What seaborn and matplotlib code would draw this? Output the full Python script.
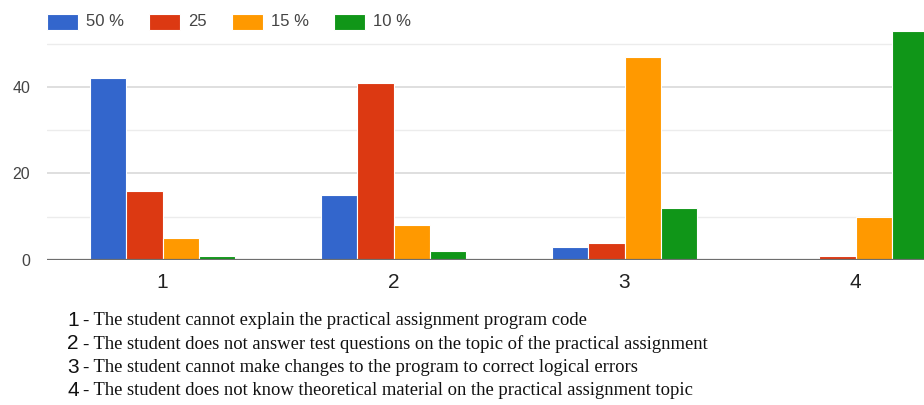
import matplotlib
matplotlib.use("Agg")
import matplotlib.pyplot as plt
import seaborn as sns
import pandas as pd

# answers per error type, one list per grade share
groups = ["1", "2", "3", "4"]
series = ["50 %", "25", "15 %", "10 %"]
share_50 = [42, 15, 3, 0]
share_25 = [16, 41, 4, 1]
share_15 = [5, 8, 47, 10]
share_10 = [1, 2, 12, 53]
colors = ["#3366cc", "#dc3912", "#ff9900", "#109618"]
descriptions = [
    "The student cannot explain the practical assignment program code",
    "The student does not answer test questions on the topic of the practical assignment",
    "The student cannot make changes to the program to correct logical errors",
    "The student does not know theoretical material on the practical assignment topic",
]

rows = []
for name, vals in zip(series, [share_50, share_25, share_15, share_10]):
    for g, v in zip(groups, vals):
        rows.append({"group": g, "series": name, "value": v})
df = pd.DataFrame(rows)

sns.set_style("white")
plt.rcParams["font.family"] = ["Liberation Sans", "DejaVu Sans"]

W, H = 924, 405
fig = plt.figure(figsize=(W / 100, H / 100), dpi=100)
# plot area runs past the right edge, as in the cropped original
ax = fig.add_axes([47 / W, (H - 260) / H, 924 / W, 238 / H])

sns.barplot(data=df, x="group", y="value", hue="series", order=groups,
            hue_order=series, palette=colors, width=0.63, edgecolor="white",
            linewidth=0.8, saturation=1, ax=ax, zorder=2)

ax.set_xlim(-0.5, 3.5)
ax.set_ylim(0, 55)
ax.set_yticks([0, 20, 40])
ax.set_yticks([10, 30, 50], minor=True)
ax.grid(axis="y", which="major", color="#d9d9d9", linewidth=1.2, zorder=0)
ax.grid(axis="y", which="minor", color="#ececec", linewidth=1.0, zorder=0)
ax.axhline(0, color="#6e6e6e", linewidth=1.6, zorder=3)
ax.set_axisbelow(True)
for s in ax.spines.values():
    s.set_visible(False)
ax.tick_params(axis="y", which="both", length=0, pad=12, labelsize=11.5,
               labelcolor="#444444")
ax.tick_params(axis="x", length=0, pad=9, labelsize=15, labelcolor="#222222")
ax.set_xlabel("")
ax.set_ylabel("")

handles, labels = ax.get_legend_handles_labels()
ax.legend(handles, labels, loc="upper left", ncol=4, frameon=False,
          bbox_to_anchor=(47 / W, 1 - 13 / H), bbox_transform=fig.transFigure,
          fontsize=12, handlelength=1.86, handleheight=1.0,
          handletextpad=0.48, columnspacing=1.5, borderpad=0,
          borderaxespad=0, labelcolor="#444444")
for h in ax.get_legend().legend_handles:
    h.set_height(16 * 0.72)
    h.set_y(-3)

for i, (num, text) in enumerate(zip(groups, descriptions)):
    y = 1 - (320.5 + 23.3 * i) / H
    fig.text(67 / W, y, num, fontsize=15, color="#111111", va="center",
             family=["Liberation Sans", "DejaVu Sans"])
    fig.text(83 / W, y, "- " + text, fontsize=13.4, color="#111111",
             va="center", family=["Liberation Serif", "DejaVu Serif"])

fig.savefig("out.png", dpi=100)
